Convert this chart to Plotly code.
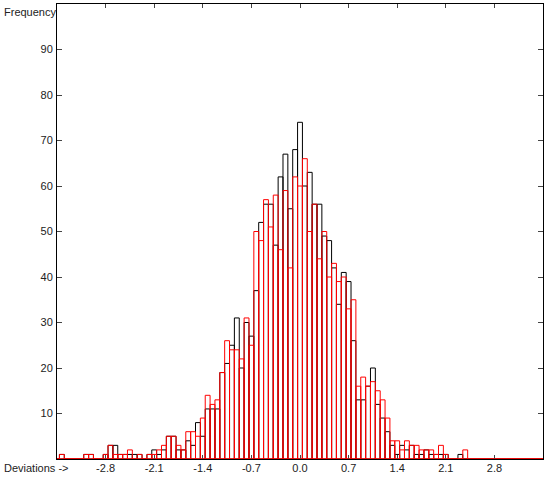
import plotly.graph_objects as go

# bin centres are k * 0.07, k = -50 .. 50
bin_width = 0.07
bin_index = list(range(-50, 51))

# red series (drawn on top)
red_counts = [
    0, 1, 0, 0, 0, 0, 1, 1, 0, 0,      # -50 .. -41
    1, 3, 1, 1, 1, 2, 0, 1, 0, 1,      # -40 .. -31
    1, 2, 3, 5, 5, 3, 2, 6, 6, 5,      # -30 .. -21
    9, 14, 12, 13, 19, 26, 24, 24, 22, 31,  # -20 .. -11
    25, 50, 48, 57, 51, 58, 46, 59, 42, 62,  # -10 .. -1
    60,                                 # 0
    66, 50, 56, 44, 50, 40, 43, 39, 40, 33,  # 1 .. 10
    35, 16, 18, 16, 17, 15, 13, 9, 4, 4,     # 11 .. 20
    2, 4, 3, 3, 2, 2, 2, 1, 3, 1,      # 21 .. 30
    0, 0, 0, 2, 0, 0, 0, 0, 0, 0,      # 31 .. 40
    0, 0, 0, 0, 0, 0, 0, 0, 0, 0,      # 41 .. 50
]

# black series (drawn underneath)
black_counts = [
    0, 1, 0, 0, 0, 0, 1, 1, 0, 0,
    1, 3, 3, 1, 1, 1, 1, 1, 0, 1,
    2, 1, 2, 5, 5, 2, 2, 4, 3, 8,
    5, 11, 11, 11, 19, 21, 25, 31, 20, 30,
    27, 37, 52, 56, 56, 47, 62, 67, 55, 68,
    74,
    60, 63, 56, 56, 49, 48, 42, 34, 41, 39,
    26, 13, 13, 16, 20, 12, 9, 6, 3, 1,
    3, 2, 3, 1, 1, 2, 1, 1, 1, 1,
    0, 0, 1, 0, 0, 0, 0, 0, 0, 0,
    0, 0, 0, 0, 0, 0, 0, 0, 0, 0,
]

x_ticks = [-2.8, -2.1, -1.4, -0.7, 0.0, 0.7, 1.4, 2.1, 2.8]
x_labels = ['-2.8', '-2.1', '-1.4', '-0.7', '0.0', '0.7', '1.4', '2.1', '2.8']
y_ticks = [10, 20, 30, 40, 50, 60, 70, 80, 90]

centres = [k * bin_width for k in bin_index]

black = go.Bar(x=centres, y=black_counts, width=bin_width,
               marker=dict(color='rgba(0,0,0,0)',
                           line=dict(color='black', width=1)),
               name='black')
red = go.Bar(x=centres, y=red_counts, width=bin_width,
             marker=dict(color='rgba(0,0,0,0)',
                         line=dict(color='red', width=1)),
             name='red')

layout = go.Layout(
    width=550, height=480,
    margin=dict(l=57, r=7, t=4, b=21),
    paper_bgcolor='white', plot_bgcolor='white',
    barmode='overlay', showlegend=False,
    font=dict(family='Liberation Sans, Arial, sans-serif', size=11, color='#222'),
    xaxis=dict(range=[-3.5, 3.5], tickvals=x_ticks, ticktext=x_labels,
               ticks='inside', ticklen=4, tickcolor='#444',
               showline=True, linecolor='black', linewidth=1, mirror='allticks',
               showgrid=False, zeroline=False, ticklabelstandoff=-1),
    yaxis=dict(range=[0, 100], tickvals=y_ticks,
               ticks='inside', ticklen=5, tickcolor='#444',
               showline=True, linecolor='black', linewidth=1, mirror='allticks',
               showgrid=False, zeroline=False, ticklabelstandoff=1),
    shapes=[dict(type='line', xref='x', yref='y', x0=-3.5, x1=3.5, y0=0, y1=0,
                 line=dict(color='red', width=1), layer='above')],
    annotations=[
        dict(text='Frequency', xref='paper', yref='paper', x=-55 / 486, y=1 - 8 / 455,
             xanchor='left', yanchor='middle', showarrow=False),
        dict(text='Deviations ->', xref='paper', yref='paper', x=-55 / 486, y=-9 / 455,
             xanchor='left', yanchor='middle', showarrow=False),
    ],
)

fig = go.Figure(data=[black, red], layout=layout)
fig.write_html('out.html', config={'displayModeBar': False},
               post_script="document.body.style.margin='0';")
